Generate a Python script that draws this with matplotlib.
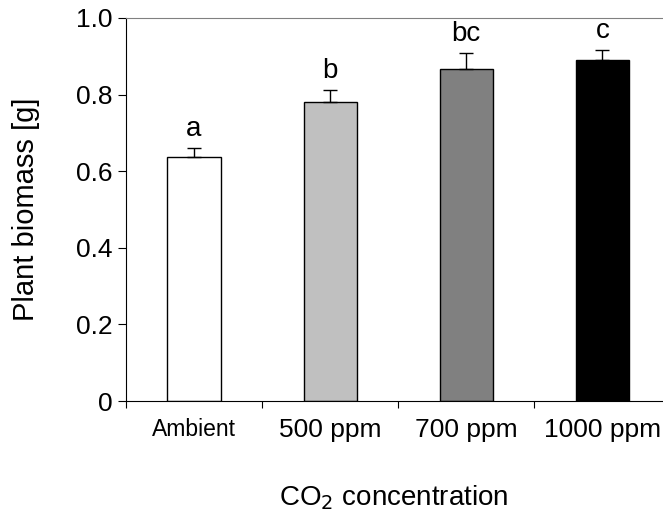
import matplotlib
import numpy as np

matplotlib.use("Agg")
import matplotlib.pyplot as plt

plt.rcParams["font.family"] = ["Liberation Sans", "DejaVu Sans"]

categories = ["Ambient", "500 ppm", "700 ppm", "1000 ppm"]
biomass = [0.636, 0.780, 0.866, 0.889]
se = [0.024, 0.033, 0.043, 0.028]
letters = ["a", "b", "bc", "c"]
colors = ["white", "#c0c0c0", "#808080", "black"]

x = np.arange(len(categories))
fig = plt.figure(figsize=(6.63, 5.11), dpi=100)
ax = fig.add_axes([0.19, 0.215, 0.809, 0.75])
ax.bar(x, biomass, 0.39, color=colors, edgecolor="black", linewidth=1.0, zorder=2)
ax.errorbar(x, biomass, yerr=[np.zeros(len(se)), se], fmt="none", ecolor="black",
            elinewidth=1.0, capsize=5, capthick=1.0, zorder=3)
for xi, b, s, l in zip(x, biomass, se, letters):
    ax.text(xi, b + s + 0.015, l, ha="center", va="bottom", fontsize=20)

ax.set_xlim(-0.5, 3.44)
ax.set_ylim(0, 1.0)
ax.set_yticks([0, 0.2, 0.4, 0.6, 0.8, 1.0])
ax.set_yticklabels(["0", "0.2", "0.4", "0.6", "0.8", "1.0"])
ax.set_xticks(np.arange(len(categories)) - 0.5)
ax.set_xticklabels([])
ax.set_xticks(x, minor=True)
ax.set_xticklabels(categories, minor=True)
for i, t in enumerate(ax.get_xticklabels(minor=True)):
    t.set_fontsize(16.5 if i == 0 else 19)
ax.tick_params(axis="x", which="minor", length=0, pad=12)
ax.tick_params(axis="x", which="major", length=5, direction="out")
ax.tick_params(axis="y", length=6, direction="out", labelsize=19)
ax.spines["right"].set_visible(False)
ax.spines["top"].set_color("#808080")
ax.set_ylabel("Plant biomass [g]", fontsize=21, labelpad=26)
ax.set_xlabel("CO$_2$ concentration", fontsize=20, labelpad=30)
fig.savefig("out.png", dpi=100)
